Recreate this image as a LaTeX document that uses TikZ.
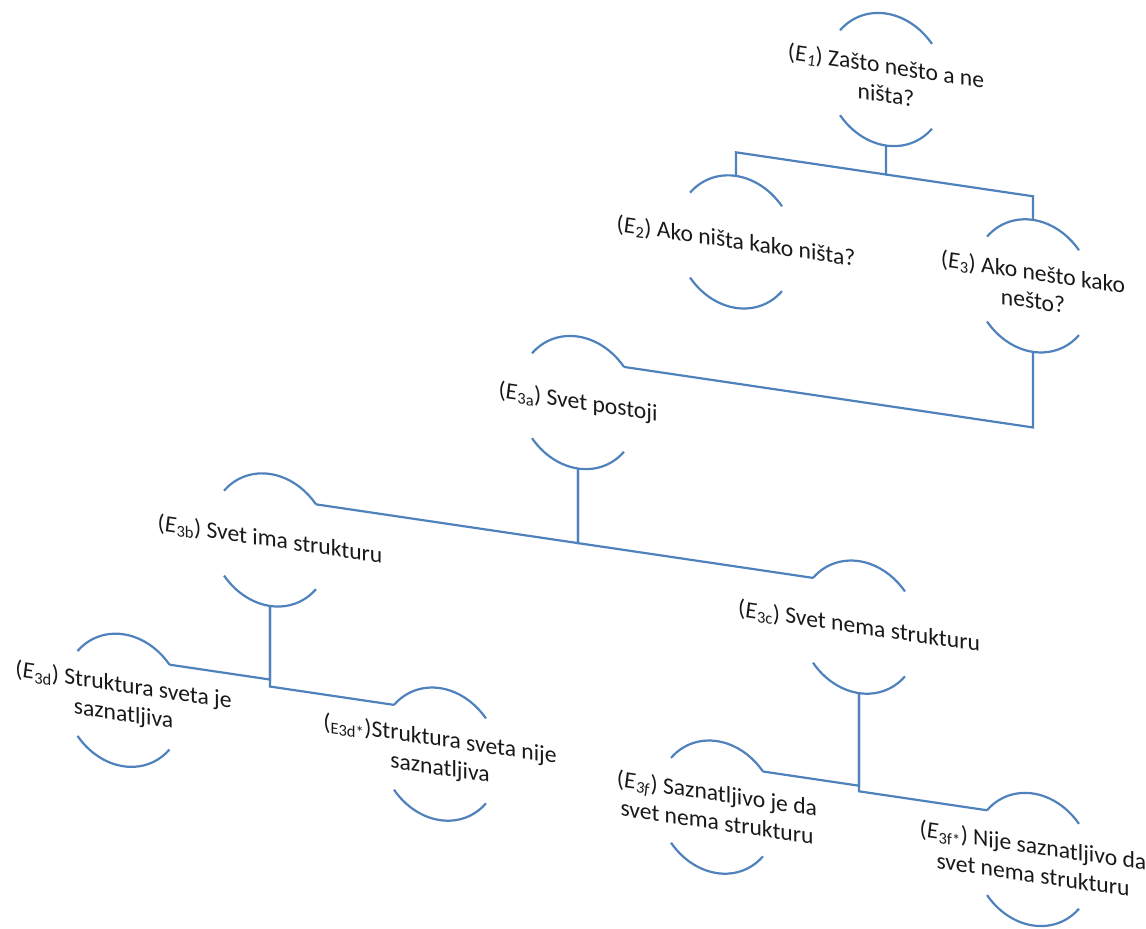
\documentclass[tikz,border=0pt]{standalone}
\usepackage{fontspec}
\setmainfont{Carlito}
\usetikzlibrary{positioning}
\definecolor{linkblue}{RGB}{79,129,189}
\definecolor{ink}{RGB}{25,25,25}
\tikzset{
  idea/.style={inner sep=0pt,align=center,text=ink,font=\fontsize{23.6}{28.8}\selectfont},
  bracket/.style={draw=linkblue,line width=2.2pt},
  link/.style={draw=linkblue,line width=2.2pt,line join=miter},
}
\begin{document}
\begin{tikzpicture}[x=1pt,y=1pt]
  \useasboundingbox (0,0) rectangle (1146,-929);
  \begin{scope}[yslant=-0.148,transform shape]
    \node[idea] (e1) at (886,51.6) {(\textit{E}\textsubscript{\textit{1}}) Zašto nešto a ne\\ništa?};
    \node[idea] (e2) at (736,-133) {(\textit{E}\textsubscript{2}) Ako ništa kako ništa?};
    \node[idea] (e3) at (1033,-133) {(\textit{E}\textsubscript{3}) Ako nešto kako\\nešto?};
    \node[idea] (e3a) at (578,-317) {(\textit{E}\textsubscript{3a}) Svet postoji};
    \node[idea] (e3b) at (270,-500) {(\textit{E}\textsubscript{3b}) Svet ima strukturu};
    \node[idea] (e3c) at (859,-500) {(\textit{E}\textsubscript{3c}) Svet nema strukturu};
    \node[idea] (e3d) at (123.5,-682) {(\textit{E}\textsubscript{3d}) Struktura sveta je\\saznatljiva};
    \node[idea] (e3ds) at (440,-689) {(\textsubscript{E3d*})Struktura sveta nije\\saznatljiva};
    \node[idea] (e3f) at (717,-701) {(\textit{E}\textsubscript{\textit{3f}}) Saznatljivo je da\\svet nema strukturu};
    \node[idea] (e3fs) at (1033,-706.6) {(\textit{E}\textsubscript{3f*}) Nije saznatljivo da\\svet nema strukturu};
    \foreach \n in {e1,e2,e3,e3a,e3b,e3c,e3d,e3ds,e3f,e3fs}{
      \draw[bracket] ([shift={(140:60pt and 66pt)}]\n.center) arc[start angle=140,end angle=40,x radius=60pt,y radius=66pt];
      \draw[bracket] ([shift={(220:60pt and 66pt)}]\n.center) arc[start angle=220,end angle=320,x radius=60pt,y radius=66pt];
      \coordinate (\n-t) at ([yshift=66pt]\n.center);
      \coordinate (\n-b) at ([yshift=-66pt]\n.center);
      \coordinate (\n-l) at ([shift={(140:60pt and 66pt)}]\n.center);
      \coordinate (\n-r) at ([shift={(40:60pt and 66pt)}]\n.center);
    }
    \draw[link] (e1-b) -- ++(0,-29) coordinate (j1) -| (e2-t);
    \draw[link] (j1) -| (e3-t);
    \draw[link] (e3-b) |- (e3a-r);
    \draw[link] (e3a-b) |- (e3b-r);
    \draw[link] (e3a-b) |- (e3c-l);
    \draw[link] (e3b-b) |- (e3d-r);
    \draw[link] (e3b-b) |- (e3ds-l);
    \draw[link] (e3c-b) |- (e3f-r);
    \draw[link] (e3c-b) |- (e3fs-l);
  \end{scope}
\end{tikzpicture}
\end{document}
